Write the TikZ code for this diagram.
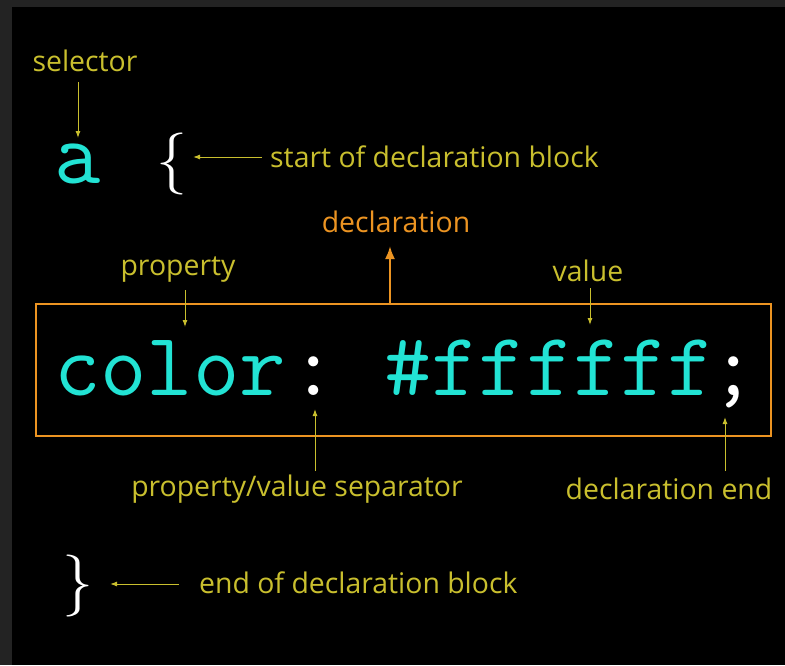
\documentclass[tikz,border=0pt]{standalone}
\usepackage{fontspec}
\setmainfont{Open Sans}
\usetikzlibrary{arrows.meta}
\definecolor{lblyellow}{HTML}{C9BF2E}
\definecolor{boxorange}{HTML}{EC9422}
\definecolor{codecyan}{HTML}{22E3D4}
\definecolor{framegrey}{HTML}{232323}
\tikzset{
  lbl/.style={text=lblyellow, font=\fontsize{28.4}{32}\selectfont, inner sep=0pt},
  yarrow/.style={draw=lblyellow, line width=1pt, -{Latex[length=7pt,width=5pt]}},
  oarrow/.style={draw=boxorange, line width=2.2pt, -{Latex[length=13pt,width=10pt]}},
  brace/.style={text=white, font=\sffamily\fontsize{62}{70}\selectfont, inner sep=0pt},
  code/.style={font=\ttfamily\fontsize{90}{92}\selectfont, inner sep=0pt}
}
\begin{document}
\begin{tikzpicture}[x=1pt,y=-1pt]
\fill[framegrey] (0,0) rectangle (785,665);
\fill[black] (12,7) rectangle (785,665);
\useasboundingbox (0,0) rectangle (785,665);

% selector
\node[lbl] (selector) at (85,61) {selector};
\node[code, text=codecyan, anchor=base] (sel) at (78,183) {a};
\draw[yarrow] (78,82) -- (78,138);

% start brace
\node[brace] (lbrace) at (172,164) {\{};
\node[lbl, anchor=west] (startlbl) at (270,157) {start of declaration block};
\draw[yarrow] (262,157) -- (193,157);

% box
\node[draw=boxorange, line width=2pt, minimum width=735pt, minimum height=132pt, inner sep=0pt, anchor=north west] (box) at (35,303) {};
\node[code, text=codecyan, anchor=base west] (propcode) at (54,395) {color};
\node[code, text=white, anchor=base] (colon) at (314,395) {:};
\node[code, text=codecyan, anchor=base west, xscale=1.02] (valcode) at (384,395) {\#ffffff};
\node[code, text=white, anchor=base] (semi) at (734,395) {;};

% declaration
\node[lbl, text=boxorange] (decl) at (396,222) {declaration};
\draw[oarrow] (390,303) -- (390,246);

% property
\node[lbl] (prop) at (178,270) {property};
\draw[yarrow] (185,290) -- (185,327);

% value
\node[lbl] (val) at (588,271) {value};
\draw[yarrow] (590,288) -- (590,325);

% separator
\node[lbl] (sep) at (297,489) {property/value separator};
\draw[yarrow] (315,471) -- (315,409);

% declaration end
\node[lbl] (dend) at (669,489) {declaration end};
\draw[yarrow] (725,471) -- (725,417);

% end brace
\node[brace] (rbrace) at (78,586) {\}};
\node[lbl, anchor=west] (endlbl) at (199,583) {end of declaration block};
\draw[yarrow] (179,584) -- (110,584);
\end{tikzpicture}
\end{document}
